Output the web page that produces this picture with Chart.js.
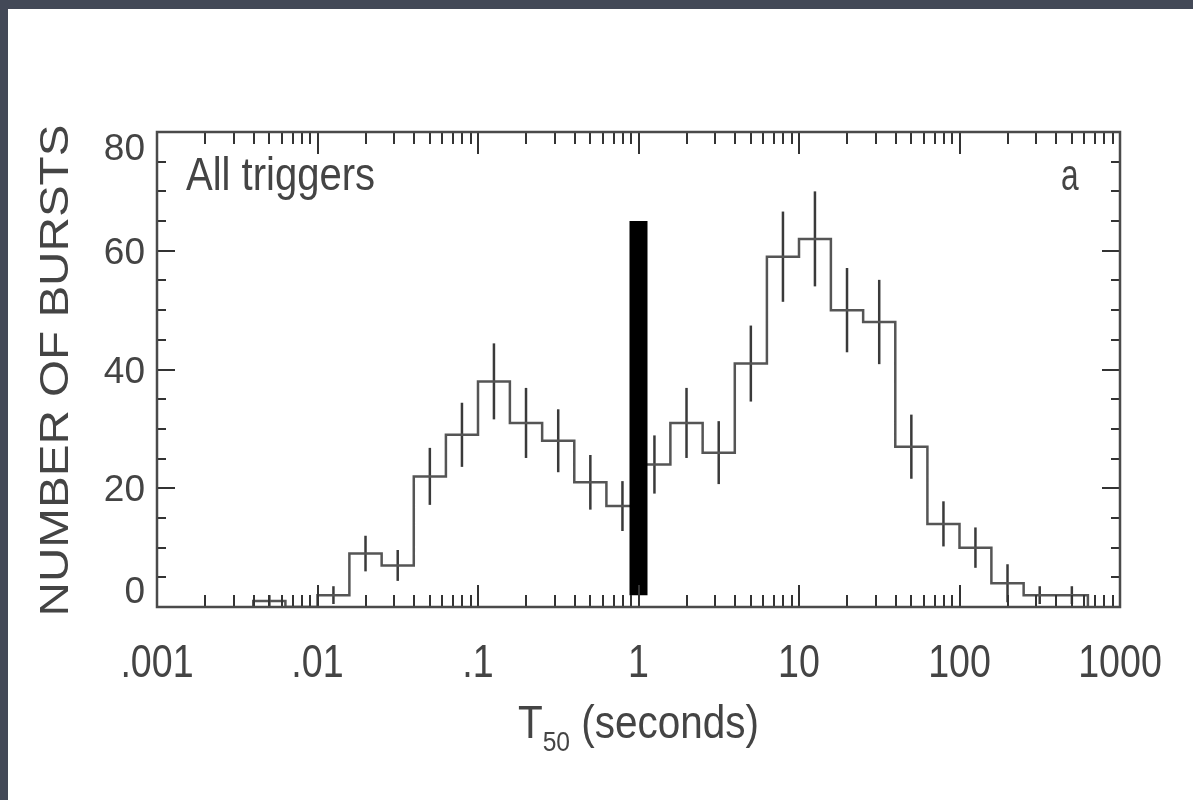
<!DOCTYPE html>
<html lang="en">
<head>
  <meta charset="UTF-8">
  <title>T50 distribution - all triggers</title>
  <style>
    html, body {
      margin: 0;
      padding: 0;
    }
    body {
      width: 1193px;
      height: 800px;
      background: #434957;
      position: relative;
      overflow: hidden;
    }
    #panel {
      position: absolute;
      left: 8px;
      top: 9px;
      right: 0;
      bottom: 0;
      background: #fff;
    }
    #chart {
      position: absolute;
      left: 0;
      top: 0;
    }
  </style>
</head>
<body>
  <div id="panel"></div>
  <canvas id="chart" width="1193" height="800"></canvas>

  <script src="https://cdn.jsdelivr.net/npm/chart.js"></script>
  <script>
    // lower edge of each T50 bin in seconds (5 bins per decade), last bin closes at binEnd
    const binStarts = [0.00398, 0.00631, 0.01, 0.0158, 0.0251, 0.0398, 0.0631,
                       0.1, 0.158, 0.251, 0.398, 0.631, 1, 1.58, 2.51, 3.98, 6.31,
                       10, 15.8, 25.1, 39.8, 63.1, 100, 158, 251, 398];
    const binEnd = 631;
    const counts = [1, 0, 2, 9, 7, 22, 29, 38, 31, 28, 21, 17,
                    24, 31, 26, 41, 59, 62, 50, 48, 27, 14, 10, 4, 2, 2];
    const countErrors = [1, 0, 1.5, 3, 2.6, 4.8, 5.4, 6.4, 5.9, 5.3, 4.6, 4.2,
                         4.9, 5.9, 5.3, 6.4, 7.6, 8, 7.1, 7.1, 5.4, 3.8, 3.4, 3.2, 1.5, 1.5];

    const xTicks = [0.001, 0.01, 0.1, 1, 10, 100, 1000];
    const xTickLabels = ['.001', '.01', '.1', '1', '10', '100', '1000'];
    const yTicks = [0, 20, 40, 60, 80];

    // hand-drawn divider between short and long bursts
    const cutT50 = 1;
    const cutRange = [2, 65];

    const panelTitle = 'All triggers';
    const panelTag = 'a';
    const yTitle = 'NUMBER OF BURSTS';

    const FONT = '"Liberation Sans", Arial, sans-serif';
    const INK = '#444';

    // histogram outline as a stepped line starting and ending on the axis
    const stepPoints = [{ x: binStarts[0], y: 0 }];
    binStarts.forEach((x, i) => stepPoints.push({ x: x, y: counts[i] }));
    stepPoints.push({ x: binEnd, y: 0 });

    function drawText(ctx, str, x, y, size, align, squeeze) {
      ctx.save();
      ctx.font = size + 'px ' + FONT;
      ctx.fillStyle = INK;
      ctx.textAlign = align;
      ctx.textBaseline = 'alphabetic';
      ctx.translate(x, y);
      ctx.scale(squeeze, 1);
      ctx.fillText(str, 0, 0);
      ctx.restore();
    }

    const errorBars = {
      id: 'errorBars',
      beforeDatasetsDraw(chart) {
        const { ctx, scales: { x, y } } = chart;
        ctx.save();
        ctx.strokeStyle = '#3a3a3a';
        ctx.lineWidth = 2.5;
        binStarts.forEach((lo, i) => {
          if (!countErrors[i]) return;
          const hi = i + 1 < binStarts.length ? binStarts[i + 1] : binEnd;
          const px = x.getPixelForValue(Math.sqrt(lo * hi));
          ctx.beginPath();
          ctx.moveTo(px, y.getPixelForValue(Math.max(0, counts[i] - countErrors[i])));
          ctx.lineTo(px, y.getPixelForValue(counts[i] + countErrors[i]));
          ctx.stroke();
        });
        ctx.restore();
      }
    };

    // boxed frame with inward ticks on all four sides, labels and titles
    const frame = {
      id: 'frame',
      afterDraw(chart) {
        const { ctx, chartArea: a, scales: { x, y } } = chart;
        ctx.save();
        ctx.strokeStyle = '#333';
        ctx.lineWidth = 2;
        ctx.beginPath();
        for (let d = -3; d <= 3; d++) {
          for (let k = 1; k <= 9; k++) {
            if (d === 3 && k > 1) break;
            const px = Math.round(x.getPixelForValue(k * Math.pow(10, d)));
            const len = k === 1 ? 22 : 12;
            ctx.moveTo(px, a.bottom);
            ctx.lineTo(px, a.bottom - len);
            ctx.moveTo(px, a.top);
            ctx.lineTo(px, a.top + len);
          }
        }
        for (let v = 0; v <= 80; v += 5) {
          const py = Math.round(y.getPixelForValue(v));
          const len = v % 20 === 0 ? 18 : 9;
          ctx.moveTo(a.left, py);
          ctx.lineTo(a.left + len, py);
          ctx.moveTo(a.right, py);
          ctx.lineTo(a.right - len, py);
        }
        ctx.stroke();

        ctx.strokeStyle = '#4a4a4a';
        ctx.lineWidth = 2.5;
        ctx.strokeRect(a.left, a.top, a.right - a.left, a.bottom - a.top);
        ctx.restore();

        // tick labels
        xTicks.forEach((v, i) => {
          drawText(ctx, xTickLabels[i], x.getPixelForValue(v), 677, 47, 'center', 0.8);
        });
        yTicks.forEach(v => {
          let cy = y.getPixelForValue(v);
          cy = Math.min(Math.max(cy, a.top + 15), a.bottom - 17);
          drawText(ctx, String(v), 145, cy + 13, 37, 'right', 1);
        });

        // panel annotations
        drawText(ctx, panelTitle, 186, 190, 46, 'left', 0.87);
        drawText(ctx, panelTag, 1061, 190, 44, 'left', 0.72);

        // x title: T with subscript 50
        const cx = (a.left + a.right) / 2;
        ctx.save();
        ctx.font = '46px ' + FONT;
        const wT = ctx.measureText('T').width * 0.88;
        const wRest = ctx.measureText(' (seconds)').width * 0.88;
        ctx.font = '28px ' + FONT;
        const wSub = ctx.measureText('50').width * 0.88;
        ctx.restore();
        let tx = cx - (wT + wSub + wRest) / 2;
        drawText(ctx, 'T', tx, 738, 46, 'left', 0.88);
        tx += wT;
        drawText(ctx, '50', tx, 751, 28, 'left', 0.88);
        tx += wSub;
        drawText(ctx, ' (seconds)', tx, 738, 46, 'left', 0.88);

        // y title, rotated
        ctx.save();
        ctx.translate(68, (a.top + a.bottom) / 2 + 1);
        ctx.rotate(-Math.PI / 2);
        ctx.scale(1.19, 1);
        ctx.font = '40px ' + FONT;
        ctx.fillStyle = INK;
        ctx.textAlign = 'center';
        ctx.textBaseline = 'alphabetic';
        ctx.fillText(yTitle, 0, 0);
        ctx.restore();
      }
    };

    const ctx = document.getElementById('chart').getContext('2d');
    const chart = new Chart(ctx, {
      type: 'line',
      data: {
        datasets: [{
          data: [{ x: cutT50, y: cutRange[0] }, { x: cutT50, y: cutRange[1] }],
          borderColor: '#000',
          borderWidth: 18,
          borderCapStyle: 'butt',
          pointRadius: 0,
          fill: false
        }, {
          data: stepPoints,
          stepped: true,
          borderColor: '#555',
          borderWidth: 2.5,
          pointRadius: 0,
          fill: false
        }]
      },
      options: {
        responsive: false,
        animation: false,
        devicePixelRatio: 1,
        layout: { padding: { left: 0, top: 132, right: 73, bottom: 0 } },
        plugins: {
          legend: { display: false },
          tooltip: { enabled: false }
        },
        scales: {
          x: {
            type: 'logarithmic',
            min: 0.001,
            max: 1000,
            grid: { display: false },
            border: { display: false },
            ticks: { display: false },
            afterFit: s => { s.height = 193; }
          },
          y: {
            min: 0,
            max: 80,
            grid: { display: false },
            border: { display: false },
            ticks: { display: false },
            afterFit: s => { s.width = 157; }
          }
        }
      },
      plugins: [errorBars, frame]
    });
  </script>
</body>
</html>
